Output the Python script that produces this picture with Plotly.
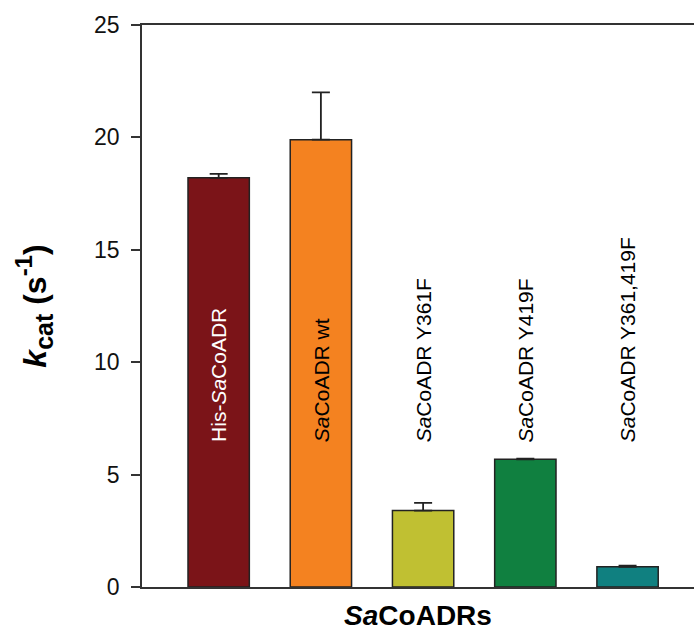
import plotly.graph_objects as go

# kcat values for each enzyme variant (s^-1) and their upper error
variants = ["His-<i>Sa</i>CoADR", "<i>Sa</i>CoADR wt", "<i>Sa</i>CoADR Y361F",
            "<i>Sa</i>CoADR Y419F", "<i>Sa</i>CoADR Y361,419F"]
kcat = [18.2, 19.9, 3.4, 5.68, 0.9]
kcat_err = [0.18, 2.1, 0.34, 0.03, 0.05]
colors = ["#7B1418", "#F48220", "#C0C032", "#108040", "#108080"]
label_colors = ["white", "black", "black", "black", "black"]
yticks = [0, 5, 10, 15, 20, 25]

FONT = "Arial, Liberation Sans, sans-serif"
AXIS_COLOR = "#333333"

positions = list(range(len(variants)))

fig = go.Figure()
fig.add_trace(go.Bar(
    x=positions,
    y=kcat,
    width=0.6,
    marker=dict(color=colors, line=dict(color="#222222", width=1.5)),
    error_y=dict(type="data", array=kcat_err, symmetric=False,
                 arrayminus=[0] * len(kcat), color="#222222",
                 thickness=1.8, width=9),
    showlegend=False,
))

# rotated variant names, all starting from the same height
label_base = 6.35
for pos, name, col in zip(positions, variants, label_colors):
    fig.add_annotation(
        x=pos, y=label_base, text=name, textangle=-90,
        xanchor="center", yanchor="bottom", showarrow=False,
        font=dict(family=FONT, size=21, color=col),
    )

y_title = ("<b><i>k</i><sub><span style='font-size:25px'>cat</span></sub> "
           "(s<sup><span style='font-size:24px'>-1</span></sup>)</b>")

fig.update_layout(
    width=694, height=635,
    margin=dict(l=142, r=0, t=25, b=48),
    plot_bgcolor="white", paper_bgcolor="white",
    bargap=0.4,
    xaxis=dict(
        range=[-0.75, 4.65],
        showticklabels=False, ticks="",
        showgrid=False, zeroline=False,
        showline=True, linecolor=AXIS_COLOR, linewidth=1.5, mirror=True,
        title=dict(text="<b><i>Sa</i>CoADRs</b>",
                   font=dict(family=FONT, size=28, color="black"),
                   standoff=18),
    ),
    yaxis=dict(
        range=[0, 25],
        tickvals=yticks, ticktext=[str(v) for v in yticks],
        ticks="outside", ticklen=9, tickwidth=1.5, tickcolor=AXIS_COLOR,
        ticklabelstandoff=7,
        tickfont=dict(family=FONT, size=23, color="#111111"),
        showgrid=False, zeroline=False,
        showline=True, linecolor=AXIS_COLOR, linewidth=1.5,
        title=dict(text=y_title,
                   font=dict(family=FONT, size=32, color="black"),
                   standoff=38),
    ),
)

fig.write_html("out.html")
